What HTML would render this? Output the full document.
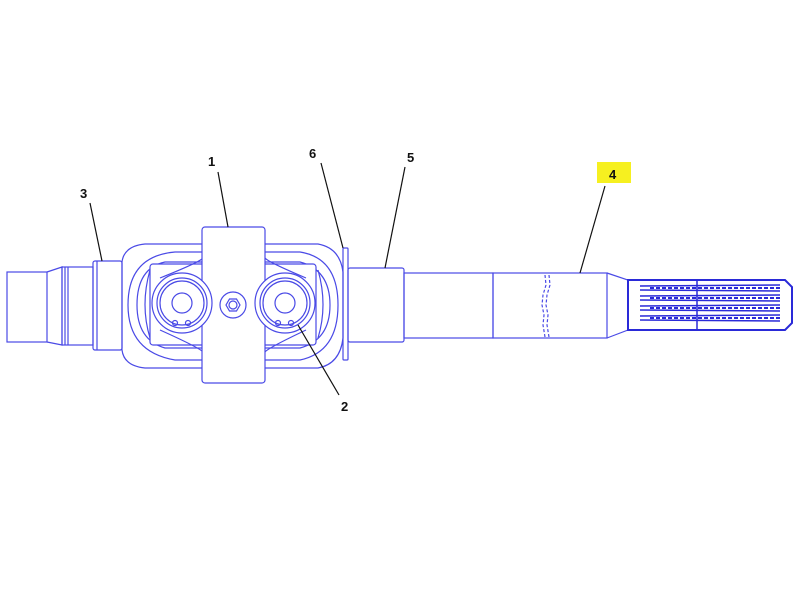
<!DOCTYPE html>
<html><head><style>
html,body{margin:0;padding:0;background:#fff;width:800px;height:600px;overflow:hidden}
svg{display:block}
text{font-family:"Liberation Sans",sans-serif;font-weight:bold;font-size:13px;fill:#111}
</style></head><body>
<svg width="800" height="600" viewBox="0 0 800 600" xmlns="http://www.w3.org/2000/svg">
<g fill="none" stroke="#4a4ae6" stroke-width="1.2">
<rect x="7" y="272" width="40" height="70"/>
<path d="M47 272 L62 267 L62 345 L47 342"/>
<rect x="62" y="267" width="31" height="78"/>
<line x1="65" y1="267" x2="65" y2="345"/><line x1="68" y1="267" x2="68" y2="345"/>
<rect x="93" y="261" width="29" height="89" rx="2"/>
<line x1="97" y1="261" x2="97" y2="350"/>
<!-- yoke outer -->
<path d="M122 262 Q124 246 145 244 L318 244 Q340 248 343 272 L343 338 Q340 364 318 368 L145 368 Q124 366 122 350 Z"/>
<path d="M128 305 Q128 256 175 252 L300 252 Q338 258 338 305 Q338 352 300 360 L175 360 Q128 352 128 305 Z"/>
<path d="M137 305 Q137 268 165 262 L300 262 Q330 270 330 305 Q330 340 300 348 L165 348 Q137 340 137 305 Z"/>
<path d="M150 270 Q140 305 150 338 M318 270 Q328 305 318 338"/>
<rect x="150" y="264" width="63" height="81" rx="3" fill="#fff"/>
<rect x="252" y="264" width="64" height="81" rx="3" fill="#fff"/>
<path d="M160 278 Q200 262 203 258 M160 330 Q200 348 203 352 M306 278 Q268 262 265 258 M306 330 Q268 348 265 352"/>
<rect x="202" y="227" width="63" height="156" rx="3" fill="#fff"/>
<circle cx="182" cy="303" r="30" fill="#fff"/><circle cx="182" cy="303" r="25"/><circle cx="182" cy="303" r="22"/><circle cx="182" cy="303" r="10"/>
<circle cx="175" cy="323" r="2.5"/><circle cx="188" cy="323" r="2.5"/>
<circle cx="285" cy="303" r="30" fill="#fff"/><circle cx="285" cy="303" r="25"/><circle cx="285" cy="303" r="22"/><circle cx="285" cy="303" r="10"/>
<circle cx="278" cy="323" r="2.5"/><circle cx="291" cy="323" r="2.5"/>
<circle cx="233" cy="305" r="13"/>
<polygon points="240,305 236.5,311 229.5,311 226,305 229.5,299 236.5,299"/>
<circle cx="233" cy="305" r="4"/>
<rect x="343" y="248" width="5" height="112" rx="1"/>
<rect x="348" y="268" width="56" height="74" rx="2"/>
<rect x="404" y="273" width="89" height="65"/>
<rect x="493" y="273" width="114" height="65"/>
<path d="M607 273 L628 280 L628 330 L607 338"/>
<path d="M545 275 L546 285 L543 295 L542 305 L544 315 L543 325 L545 337" stroke-dasharray="3,2"/>
<path d="M549 275 L550 285 L547 295 L546 305 L548 315 L547 325 L549 337" stroke-dasharray="3,2"/>
</g>
<g fill="none" stroke="#2a2ad8" stroke-width="1.5">
<path d="M628 280 L785 280 L792 287 L792 323 L785 330 L628 330 Z" stroke-width="2"/>
<line x1="697" y1="280" x2="697" y2="330"/>
<path d="M640 286 L780 285 M640 290 L780 291 M640 296 L780 295 M640 300 L780 301 M640 306 L780 305 M640 310 L780 311 M640 316 L780 315 M640 320 L780 321"/>
<path d="M650 288 L780 288 M650 298 L780 298 M650 308 L780 308 M650 318 L780 318" stroke-dasharray="4,2" stroke-width="2"/>
</g>
<g stroke="#111" stroke-width="1.2">
<line x1="90" y1="203" x2="102" y2="261"/>
<line x1="218" y1="172" x2="228" y2="227"/>
<line x1="321" y1="163" x2="343" y2="248"/>
<line x1="405" y1="167" x2="385" y2="268"/>
<line x1="605" y1="186" x2="580" y2="273"/>
<line x1="339" y1="395" x2="298" y2="325"/>
</g>
<rect x="597" y="162" width="34" height="21" fill="#f6f020"/>
<text x="80" y="198">3</text>
<text x="208" y="166">1</text>
<text x="309" y="158">6</text>
<text x="407" y="162">5</text>
<text x="609" y="179">4</text>
<text x="341" y="411">2</text>
</svg>
</body></html>
